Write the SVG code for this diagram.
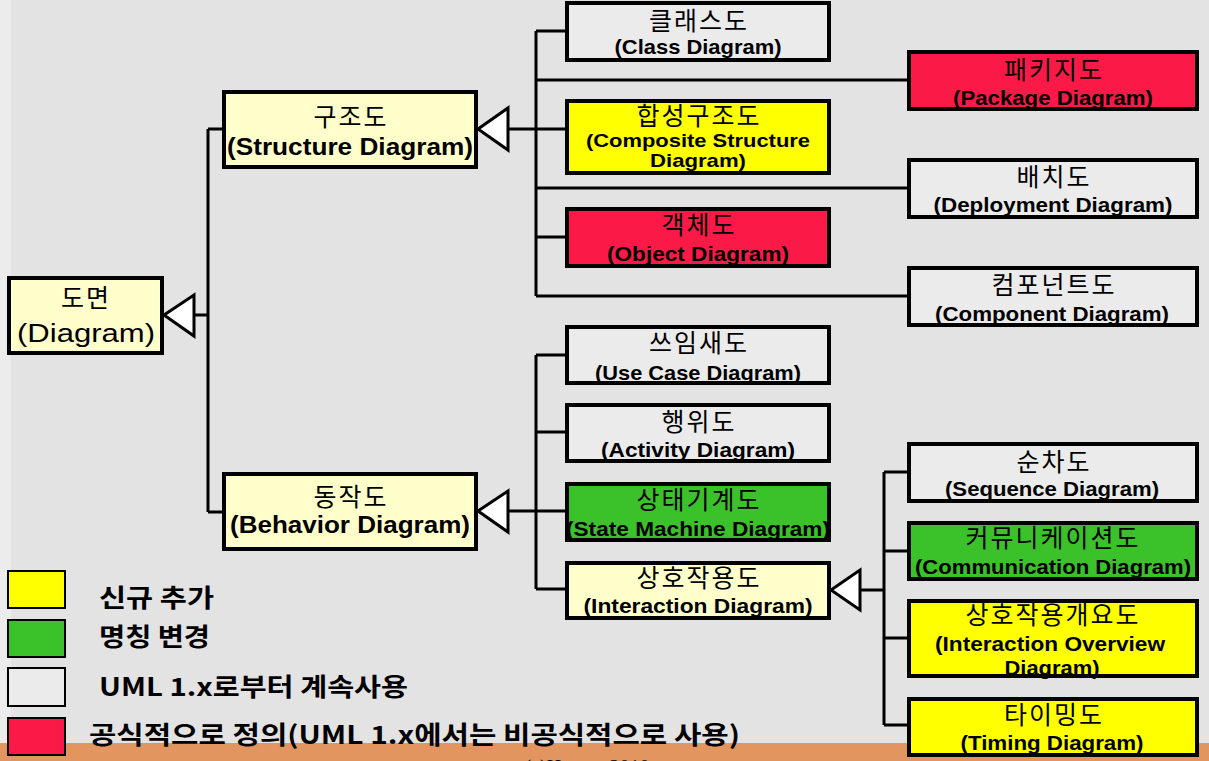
<svg xmlns="http://www.w3.org/2000/svg" width="1209" height="761" viewBox="0 0 1209 761">
<style>
.box{stroke:#000;stroke-width:4}
.ly{fill:#ffffcc}.yw{fill:#ffff00}.gr{fill:#3bc22a}.rd{fill:#fb1a47}.gy{fill:#ebebeb}
.ko{font-family:"Noto Sans CJK KR","Noto Sans",sans-serif;font-size:25px;letter-spacing:2px;text-anchor:middle;fill:#000}
.en{font-family:"Liberation Sans",Arial,sans-serif;font-weight:bold;font-size:21px;text-anchor:middle;fill:#000}
.en2{font-family:"Liberation Sans",Arial,sans-serif;font-weight:bold;font-size:19px;text-anchor:middle;fill:#000}
.enb{font-family:"Liberation Sans",Arial,sans-serif;font-weight:bold;font-size:23px;text-anchor:middle;fill:#000}
.enr{font-family:"Liberation Sans",Arial,sans-serif;font-size:26px;text-anchor:middle;fill:#000}
.leg{font-family:"Noto Sans CJK KR","Noto Sans",sans-serif;font-weight:bold;font-size:25px;fill:#000}
.ln{stroke:#000;stroke-width:3;fill:none}
.tri{fill:#fff;stroke:#000;stroke-width:3}
.lsq{stroke:#000;stroke-width:2}
</style>
<rect x="0" y="0" width="1209" height="761" fill="#e3e3e3"/>
<rect x="0" y="0" width="11" height="761" fill="#ececec"/>
<rect x="0" y="743" width="1209" height="18" fill="#e2955f"/>
<text x="587" y="774" font-family="'Liberation Serif',serif" font-size="20" text-anchor="middle" fill="#000">(c)Hwang 2010</text>

<g id="connectors">
<polygon class="tri" points="164,315 194,295 194,336"/>
<path class="ln" d="M194,315H208M208,129V512M208,129H222M208,512H222"/>
<polygon class="tri" points="478,129 508,108 508,150"/>
<path class="ln" d="M508,129H536M536,31V296M536,31H565M536,80H907M536,129H565M536,188H907M536,237H565M536,296H907"/>
<polygon class="tri" points="478,511 508,491 508,532"/>
<path class="ln" d="M508,511H536M536,355V589M536,355H565M536,432H565M536,511H565M536,589H565"/>
<polygon class="tri" points="831,590 860,570 860,610"/>
<path class="ln" d="M860,590H884M884,472V725M884,472H907M884,551H907M884,638H907M884,725H907"/>
</g>

<g id="diagram">
<rect class="box ly" x="9" y="278" width="153" height="75"/>
<text class="ko" x="86" y="307">도면</text>
<text class="enr" x="86" y="342" textLength="138" lengthAdjust="spacingAndGlyphs">(Diagram)</text>
</g>
<g id="structure">
<rect class="box ly" x="224" y="92" width="252" height="75"/>
<text class="ko" x="351" y="126">구조도</text>
<text class="enb" x="350" y="155" textLength="246" lengthAdjust="spacingAndGlyphs">(Structure Diagram)</text>
</g>
<g id="behavior">
<rect class="box ly" x="224" y="474" width="252" height="75"/>
<text class="ko" x="351" y="506">동작도</text>
<text class="enb" x="350" y="533" textLength="240" lengthAdjust="spacingAndGlyphs">(Behavior Diagram)</text>
</g>

<g id="class">
<rect class="box gy" x="567" y="3" width="262" height="57"/>
<text class="ko" x="699" y="30">클래스도</text>
<text class="en" x="698" y="54" textLength="167" lengthAdjust="spacingAndGlyphs">(Class Diagram)</text>
</g>
<g id="package">
<rect class="box rd" x="909" y="52" width="288" height="57"/>
<text class="ko" x="1054" y="79">패키지도</text>
<text class="en" x="1053" y="105" textLength="200" lengthAdjust="spacingAndGlyphs">(Package Diagram)</text>
</g>
<g id="composite">
<rect class="box yw" x="567" y="101" width="262" height="72"/>
<text class="ko" x="699" y="125">합성구조도</text>
<text class="en2" x="698" y="147" textLength="224" lengthAdjust="spacingAndGlyphs">(Composite Structure</text>
<text class="en2" x="698" y="167" textLength="96" lengthAdjust="spacingAndGlyphs">Diagram)</text>
</g>
<g id="deployment">
<rect class="box gy" x="909" y="160" width="288" height="57"/>
<text class="ko" x="1054" y="186">배치도</text>
<text class="en" x="1053" y="212" textLength="239" lengthAdjust="spacingAndGlyphs">(Deployment Diagram)</text>
</g>
<g id="object">
<rect class="box rd" x="567" y="209" width="262" height="57"/>
<text class="ko" x="699" y="234">객체도</text>
<text class="en" x="698" y="261" textLength="182" lengthAdjust="spacingAndGlyphs">(Object Diagram)</text>
</g>
<g id="component">
<rect class="box gy" x="909" y="268" width="288" height="57"/>
<text class="ko" x="1054" y="294">컴포넌트도</text>
<text class="en" x="1052" y="321" textLength="234" lengthAdjust="spacingAndGlyphs">(Component Diagram)</text>
</g>
<g id="usecase">
<rect class="box gy" x="567" y="327" width="262" height="56"/>
<text class="ko" x="699" y="352">쓰임새도</text>
<text class="en" x="698" y="380" textLength="206" lengthAdjust="spacingAndGlyphs">(Use Case Diagram)</text>
</g>
<g id="activity">
<rect class="box gy" x="567" y="405" width="262" height="56"/>
<text class="ko" x="699" y="431">행위도</text>
<text class="en" x="698" y="457" textLength="194" lengthAdjust="spacingAndGlyphs">(Activity Diagram)</text>
</g>
<g id="statemachine">
<rect class="box gr" x="567" y="484" width="262" height="56"/>
<text class="ko" x="699" y="509">상태기계도</text>
<text class="en" x="698" y="536" textLength="264" lengthAdjust="spacingAndGlyphs">(State Machine Diagram)</text>
</g>
<g id="interaction">
<rect class="box ly" x="567" y="563" width="262" height="55"/>
<text class="ko" x="699" y="587">상호작용도</text>
<text class="en" x="698" y="613" textLength="229" lengthAdjust="spacingAndGlyphs">(Interaction Diagram)</text>
</g>
<g id="sequence">
<rect class="box gy" x="909" y="444" width="288" height="57"/>
<text class="ko" x="1054" y="471">순차도</text>
<text class="en" x="1052" y="496" textLength="214" lengthAdjust="spacingAndGlyphs">(Sequence Diagram)</text>
</g>
<g id="communication">
<rect class="box gr" x="909" y="523" width="288" height="56"/>
<text class="ko" x="1053" y="547">커뮤니케이션도</text>
<text class="en" x="1053" y="574" textLength="276" lengthAdjust="spacingAndGlyphs">(Communication Diagram)</text>
</g>
<g id="overview">
<rect class="box yw" x="909" y="601" width="288" height="75"/>
<text class="ko" x="1053" y="624">상호작용개요도</text>
<text class="en" x="1050" y="651" textLength="230" lengthAdjust="spacingAndGlyphs">(Interaction Overview</text>
<text class="en" x="1052" y="675" textLength="95" lengthAdjust="spacingAndGlyphs">Diagram)</text>
</g>
<g id="timing">
<rect class="box yw" x="909" y="699" width="288" height="56"/>
<text class="ko" x="1054" y="724">타이밍도</text>
<text class="en" x="1052" y="750" textLength="183" lengthAdjust="spacingAndGlyphs">(Timing Diagram)</text>
</g>

<g id="legend">
<rect class="lsq yw" x="8" y="571" width="57" height="37"/>
<rect class="lsq gr" x="8" y="620" width="57" height="37"/>
<rect class="lsq gy" x="8" y="668" width="57" height="38"/>
<rect class="lsq rd" x="8" y="718" width="57" height="37"/>
<text class="leg" x="99" y="607" textLength="115" lengthAdjust="spacingAndGlyphs">신규 추가</text>
<text class="leg" x="99" y="646" textLength="111" lengthAdjust="spacingAndGlyphs">명칭 변경</text>
<text class="leg" x="99" y="696" textLength="309" lengthAdjust="spacingAndGlyphs">UML 1.x로부터 계속사용</text>
<text class="leg" x="89" y="744" textLength="651" lengthAdjust="spacingAndGlyphs">공식적으로 정의(UML 1.x에서는 비공식적으로 사용)</text>
</g>
</svg>
